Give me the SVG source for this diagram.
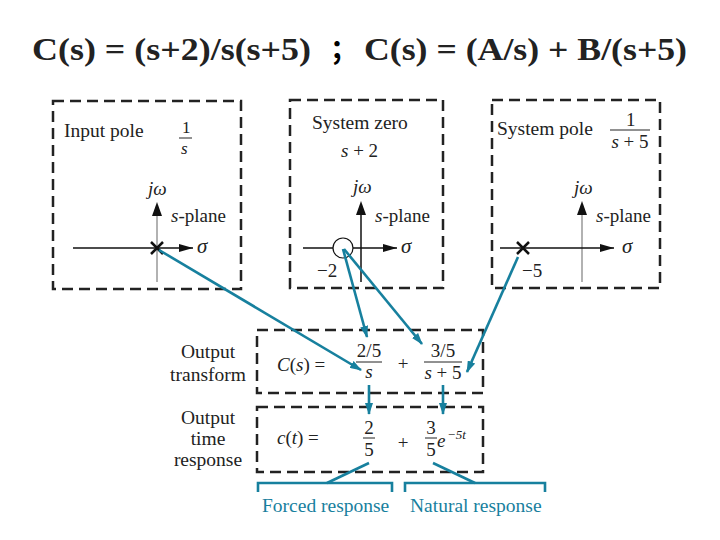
<svg xmlns="http://www.w3.org/2000/svg" width="720" height="540" viewBox="0 0 720 540">
<defs>
<marker id="ta" markerUnits="userSpaceOnUse" markerWidth="12" markerHeight="8" refX="11" refY="4" orient="auto"><path d="M0,0 L12,4 L0,8 z" fill="#17809e"/></marker>
<marker id="ba" markerUnits="userSpaceOnUse" markerWidth="14" markerHeight="8" refX="14" refY="4" orient="auto"><path d="M0,0 L14,4 L0,8 z" fill="#111"/></marker>
</defs>
<style>
.t{font-family:"Liberation Serif","Times New Roman",serif;fill:#222;}
.lb{font-size:19.5px;}
.i{font-style:italic;}
.m{font-size:19px;}
.f{font-size:17px;}
.dash{fill:none;stroke:#222;stroke-width:2.5;stroke-dasharray:11 6;}
.ax{stroke:#111;stroke-width:1.5;fill:none;}
.vax{stroke:#999;stroke-width:1.5;fill:none;}
.fr{stroke:#222;stroke-width:1;}
.tl{stroke:#17809e;stroke-width:2.6;fill:none;}
.tt{font-family:"Liberation Serif","Times New Roman",serif;fill:#17809e;font-size:19.5px;}
</style>
<rect width="720" height="540" fill="#fff"/>
<g id="title">
<text class="t" x="32" y="60" font-size="32" font-weight="bold" fill="#000" textLength="279" lengthAdjust="spacingAndGlyphs">C(s) = (s+2)/s(s+5)</text>
<text x="330" y="60" font-family="Liberation Serif, Noto Sans CJK SC, serif" font-size="28" font-weight="bold" fill="#000">；</text>
<text class="t" x="364" y="60" font-size="32" font-weight="bold" fill="#000" textLength="323" lengthAdjust="spacingAndGlyphs">C(s) = (A/s) + B/(s+5)</text>
</g>
<g id="input-pole">
<rect class="dash" x="53" y="101" width="188" height="188"/>
<text class="t lb" x="64" y="137">Input pole</text>
<text class="t f" x="182" y="133">1</text>
<line class="fr" x1="179" y1="138" x2="192" y2="138"/>
<text class="t f i" x="181" y="154">s</text>
<line class="vax" x1="157" y1="282" x2="157" y2="212"/>
<path d="M157,202 L152,216 L162,216 z" fill="#111"/>
<text class="t m i" x="148" y="195">jω</text>
<text class="t m" x="171" y="222"><tspan class="i">s</tspan>-plane</text>
<line class="ax" x1="73" y1="248" x2="193" y2="248" marker-end="url(#ba)"/>
<text class="t i" x="197" y="253" font-size="21">σ</text>
<path d="M151,242 L163,254 M163,242 L151,254" stroke="#111" stroke-width="2.5"/>
</g>
<g id="system-zero">
<rect class="dash" x="290" y="100" width="153" height="188"/>
<text class="t lb" x="312" y="129">System zero</text>
<text class="t m" x="341" y="157"><tspan class="i">s</tspan> + 2</text>
<line class="ax" x1="361" y1="282" x2="361" y2="212"/>
<path d="M361,201 L356,215 L366,215 z" fill="#111"/>
<text class="t m i" x="353" y="193">jω</text>
<text class="t m" x="375" y="222"><tspan class="i">s</tspan>-plane</text>
<line class="ax" x1="303" y1="248" x2="397" y2="248" marker-end="url(#ba)"/>
<text class="t i" x="401" y="253" font-size="21">σ</text>
<circle cx="343" cy="248" r="10" fill="#fff" stroke="#111" stroke-width="1.2"/>
<text class="t m" x="317" y="277">−2</text>
</g>
<g id="system-pole">
<rect class="dash" x="492" y="100" width="168" height="188"/>
<text class="t lb" x="497" y="135">System pole</text>
<text class="t m" x="626" y="126">1</text>
<line class="fr" x1="610" y1="130" x2="650" y2="130"/>
<text class="t m" x="630" y="148" text-anchor="middle"><tspan class="i">s</tspan> + 5</text>
<line class="vax" x1="582" y1="282" x2="582" y2="212"/>
<path d="M582,201 L577,215 L587,215 z" fill="#111"/>
<text class="t m i" x="574" y="194">jω</text>
<text class="t m" x="596" y="222"><tspan class="i">s</tspan>-plane</text>
<line class="ax" x1="500" y1="248" x2="614" y2="248" marker-end="url(#ba)"/>
<text class="t i" x="622" y="253" font-size="21">σ</text>
<path d="M517,242 L529,254 M529,242 L517,254" stroke="#111" stroke-width="2.5"/>
<text class="t m" x="522" y="277">−5</text>
</g>
<g id="output-transform">
<rect class="dash" x="257" y="330" width="226" height="63"/>
<text class="t lb" x="208" y="358" text-anchor="middle">Output</text>
<text class="t lb" x="208" y="381" text-anchor="middle">transform</text>
<text class="t m" x="277" y="371"><tspan class="i">C</tspan>(<tspan class="i">s</tspan>) =</text>
<text class="t m" x="369" y="357" text-anchor="middle">2/5</text>
<line class="fr" x1="356" y1="362" x2="382" y2="362"/>
<text class="t m i" x="369" y="378" text-anchor="middle">s</text>
<text class="t m" x="403" y="370" text-anchor="middle">+</text>
<text class="t m" x="443" y="357" text-anchor="middle">3/5</text>
<line class="fr" x1="424" y1="362" x2="462" y2="362"/>
<text class="t m" x="443" y="379" text-anchor="middle"><tspan class="i">s</tspan> + 5</text>
</g>
<g id="output-time-response">
<rect class="dash" x="257" y="407" width="226" height="65"/>
<text class="t lb" x="208" y="424" text-anchor="middle">Output</text>
<text class="t lb" x="208" y="445" text-anchor="middle">time</text>
<text class="t lb" x="208" y="466" text-anchor="middle">response</text>
<text class="t m" x="277" y="444"><tspan class="i">c</tspan>(<tspan class="i">t</tspan>) =</text>
<text class="t m" x="369" y="434" text-anchor="middle">2</text>
<line class="fr" x1="363" y1="438" x2="375" y2="438"/>
<text class="t m" x="369" y="456" text-anchor="middle">5</text>
<text class="t m" x="403" y="449" text-anchor="middle">+</text>
<text class="t m" x="431" y="434" text-anchor="middle">3</text>
<line class="fr" x1="425" y1="438" x2="437" y2="438"/>
<text class="t m" x="431" y="456" text-anchor="middle">5</text>
<text class="t m i" x="437" y="447">e</text>
<text class="t i" x="447" y="439" font-size="13">−5t</text>
</g>
<g id="forced-response">
<path class="tl" d="M258,492 L258,483 L392,483 L392,492"/>
<text class="tt" x="262" y="512">Forced response</text>
</g>
<g id="natural-response">
<path class="tl" d="M405,492 L405,483 L545,483 L545,492"/>
<text class="tt" x="410" y="512">Natural response</text>
</g>
<g id="connectors">
<line class="tl" x1="159" y1="250" x2="361" y2="370" marker-end="url(#ta)"/>
<line class="tl" x1="343" y1="249" x2="367" y2="337" marker-end="url(#ta)"/>
<line class="tl" x1="344" y1="249" x2="422" y2="344" marker-end="url(#ta)"/>
<line class="tl" x1="518" y1="257" x2="467" y2="372" marker-end="url(#ta)"/>
<line class="tl" x1="369" y1="385" x2="369" y2="414" marker-end="url(#ta)"/>
<line class="tl" x1="443" y1="385" x2="443" y2="414" marker-end="url(#ta)"/>
<line class="tl" x1="369" y1="463" x2="327" y2="483"/>
<line class="tl" x1="433" y1="463" x2="475" y2="483"/>
</g>
</svg>
